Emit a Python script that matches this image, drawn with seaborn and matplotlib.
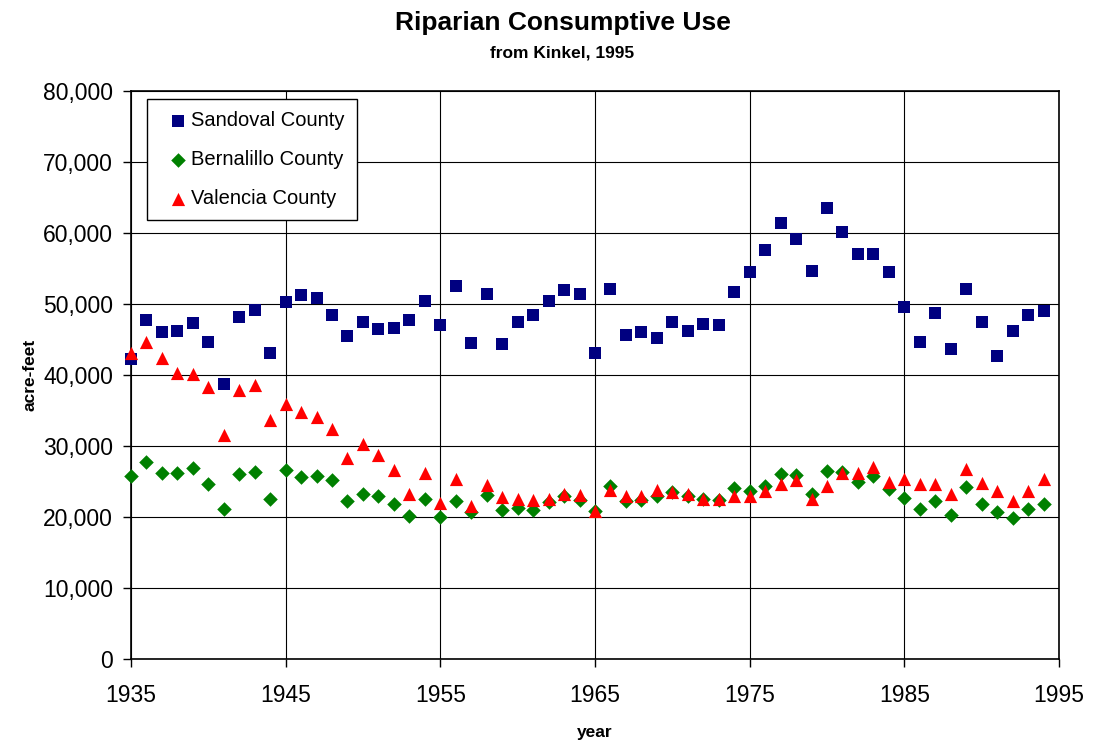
import matplotlib
matplotlib.use("Agg")
import matplotlib.pyplot as plt
import matplotlib.ticker as mticker
import numpy as np
import pandas as pd
import seaborn as sns

years = list(range(1935, 1995))

sandoval = [42300, 47700, 46000, 46200, 47300, 44600, 38800, 48200, 49100, 43100,
            50300, 51300, 50900, 48500, 45500, 47400, 46500, 46600, 47700, 50400,
            47100, 52500, 44500, 51400, 44400, 47500, 48500, 50400, 52000, 51400,
            43100, 52100, 45700, 46000, 45200, 47400, 46200, 47200, 47000, 51700,
            54500, 57600, 61400, 59100, 54700, 63500, 60100, 57000, 57000, 54500,
            49600, 44700, 48700, 43600, 52100, 47400, 42700, 46200, 48400, 49000]

bernalillo = [25800, 27800, 26200, 26200, 26900, 24600, 21100, 26100, 26400, 22600,
              26600, 25700, 25800, 25200, 22200, 23200, 22900, 21800, 20200, 22600,
              20000, 22200, 20700, 23100, 21000, 21300, 21000, 22100, 22900, 22400,
              20900, 24400, 22200, 22400, 23000, 23500, 23000, 22600, 22400, 24100,
              23700, 24400, 26100, 25900, 23300, 26500, 26400, 25000, 25800, 24000,
              22700, 21100, 22300, 20300, 24200, 21900, 20700, 19800, 21100, 21900]

valencia = [43100, 44600, 42400, 40300, 40200, 38300, 31500, 37900, 38600, 33600,
            35900, 34800, 34100, 32400, 28300, 30300, 28700, 26600, 23300, 26200,
            22000, 25300, 21600, 24500, 22800, 22500, 22400, 22500, 23300, 23100,
            20900, 23800, 23000, 22900, 23800, 23500, 23300, 22600, 22500, 23000,
            23000, 23600, 24700, 25200, 22500, 24400, 26200, 26200, 27100, 24900,
            25400, 24600, 24700, 23300, 26700, 24800, 23700, 22300, 23700, 25400]

county_names = ["Sandoval County", "Bernalillo County", "Valencia County"]
county_colors = ["#000080", "#008000", "#FF0000"]
county_markers = ["s", "D", "^"]
county_sizes = [85, 55, 90]

x_ticks = [1935, 1945, 1955, 1965, 1975, 1985, 1995]
y_ticks = list(range(0, 80001, 10000))

df = pd.DataFrame({
    "year": years * 3,
    "value": sandoval + bernalillo + valencia,
    "county": [c for c in county_names for _ in years],
})

sns.set_theme(style="white")
plt.rcParams["font.family"] = ["Liberation Sans", "DejaVu Sans"]
plt.rcParams["text.color"] = "black"
plt.rcParams["axes.labelcolor"] = "black"

fig = plt.figure(figsize=(10.94, 7.51), dpi=100)
ax = fig.add_axes([0.1197, 0.1225, 0.968 - 0.1197, 0.8788 - 0.1225])

for name, color, marker, size in zip(county_names, county_colors, county_markers, county_sizes):
    sub = df[df["county"] == name]
    sns.scatterplot(data=sub, x="year", y="value", ax=ax, color=color, marker=marker,
                    s=size, linewidth=0, label=name, zorder=3, clip_on=False)

ax.set_xlim(1935, 1995)
ax.set_ylim(0, 80000)
ax.set_xticks(x_ticks)
ax.set_yticks(y_ticks)
ax.yaxis.set_major_formatter(mticker.FuncFormatter(lambda v, p: f"{int(v):,}"))
ax.tick_params(axis="both", labelsize=16.5, direction="out", length=6, width=1,
               color="black", labelcolor="black", bottom=True, left=True)
ax.tick_params(axis="x", pad=12)
ax.tick_params(axis="y", pad=7)
ax.grid(True, color="black", linewidth=0.8)
ax.set_axisbelow(True)
for sp in ax.spines.values():
    sp.set_color("black")
    sp.set_linewidth(1.2)

ax.set_xlabel("year", fontsize=12.5, fontweight="bold", labelpad=13)
ax.set_ylabel("acre-feet", fontsize=12.5, fontweight="bold", labelpad=4)

fig.text(0.515, 0.970, "Riparian Consumptive Use", ha="center", va="center",
         fontsize=19, fontweight="bold")
fig.text(0.514, 0.930, "from Kinkel, 1995", ha="center", va="center",
         fontsize=12.5, fontweight="bold")

leg = ax.legend(loc="upper left", bbox_to_anchor=(0.017, 0.986), borderaxespad=0,
                fontsize=14.5, frameon=True, fancybox=False, edgecolor="black",
                framealpha=1, handletextpad=-0.3, labelspacing=1.0,
                borderpad=0.6, handlelength=1.9, markerscale=1.0)
leg.get_frame().set_linewidth(1.0)

fig.savefig("out.png", dpi=100, facecolor="white")
